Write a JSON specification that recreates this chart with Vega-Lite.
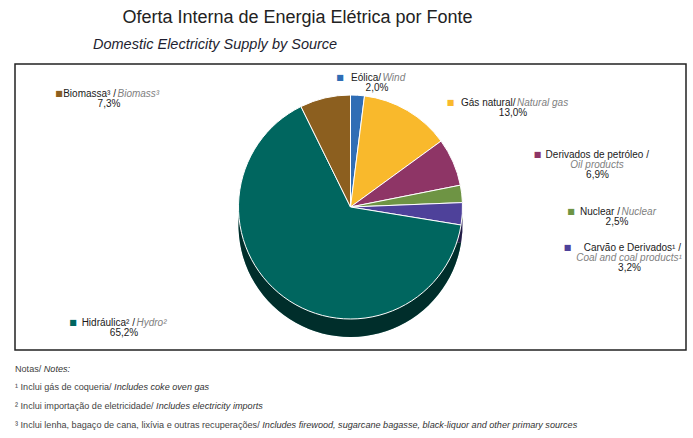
{
  "$schema": "https://vega.github.io/schema/vega-lite/v6.json",
  "background": "white",
  "padding": {"left": 14, "top": 8, "right": 0, "bottom": 0},
  "title": {"text": "Oferta Interna de Energia Elétrica por Fonte", "anchor": "middle", "dx": -53, "font": "Liberation Sans", "fontSize": 18, "fontWeight": "normal", "color": "#222222", "offset": 9},
  "spacing": 13.5,
  "config": {"view": {"stroke": null}, "text": {"font": "Liberation Sans", "fontSize": 10, "baseline": "middle", "radius": 0}},
  "vconcat": [
    {
      "width": 671,
      "height": 286,
      "view": {"stroke": "#222222", "strokeWidth": 1.5},
      "title": {"text": "Domestic Electricity Supply by Source", "anchor": "start", "dx": 78, "font": "Liberation Sans", "fontSize": 14.5, "fontStyle": "italic", "fontWeight": "normal", "color": "#1e1e30", "offset": 12},
      "data": {"values": [
        {"ord": 1, "src": "Eólica", "share": 2.0, "pt": "Eólica/", "en": "Wind", "val": "2,0%"},
        {"ord": 2, "src": "Gás natural", "share": 13.0, "pt": "Gás natural/", "en": "Natural gas", "val": "13,0%"},
        {"ord": 3, "src": "Derivados de petróleo", "share": 6.9, "pt": "Derivados de petróleo /", "en": "Oil products", "val": "6,9%"},
        {"ord": 4, "src": "Nuclear", "share": 2.5, "pt": "Nuclear /", "en": "Nuclear", "val": "2,5%"},
        {"ord": 5, "src": "Carvão e Derivados", "share": 3.2, "pt": "Carvão e Derivados¹ /", "en": "Coal and coal products¹", "val": "3,2%"},
        {"ord": 6, "src": "Hidráulica", "share": 65.2, "pt": "Hidráulica² /", "en": "Hydro²", "val": "65,2%"},
        {"ord": 7, "src": "Biomassa", "share": 7.3, "pt": "Biomassa³ /", "en": "Biomass³", "val": "7,3%"}
      ]},
      "encoding": {
        "theta": {"field": "share", "type": "quantitative", "stack": true},
        "order": {"field": "ord", "type": "quantitative"}
      },
      "layer": [
        {"mark": {"type": "arc", "radius": 112, "yOffset": 18},
         "encoding": {"color": {"field": "src", "type": "nominal", "legend": null, "scale": {"domain": ["Eólica", "Gás natural", "Derivados de petróleo", "Nuclear", "Carvão e Derivados", "Hidráulica", "Biomassa"], "range": ["#2F6DB5", "#F9B92C", "#8E3566", "#6E9444", "#4E419A", "#00665F", "#8C5F1F"]}}}},
        {"mark": {"type": "arc", "radius": 112, "yOffset": 18, "color": "#000000", "opacity": 0.55}},
        {"mark": {"type": "arc", "radius": 112, "stroke": "#ffffff", "strokeWidth": 1}, "encoding": {"color": {"field": "src", "type": "nominal", "legend": null}}},

        {"mark": {"type": "text", "align": "center", "dx": -10.5, "dy": -129.5, "font": "DejaVu Sans", "fontSize": 8}, "encoding": {"color": {"field": "src", "type": "nominal", "legend": null}, "text": {"condition": {"test": "datum.ord === 1", "value": "■"}, "value": ""}}},
        {"mark": {"type": "text", "align": "right", "dx": 30.5, "dy": -129.5, "color": "#1a1a1a"}, "encoding": {"text": {"condition": {"test": "datum.ord === 1", "field": "pt"}, "value": ""}}},
        {"mark": {"type": "text", "align": "left", "dx": 32, "dy": -129.5, "color": "#808080", "fontStyle": "italic"}, "encoding": {"text": {"condition": {"test": "datum.ord === 1", "field": "en"}, "value": ""}}},
        {"mark": {"type": "text", "align": "center", "dx": 26.5, "dy": -119.5, "color": "#1a1a1a"}, "encoding": {"text": {"condition": {"test": "datum.ord === 1", "field": "val"}, "value": ""}}},

        {"mark": {"type": "text", "align": "center", "dx": 100, "dy": -104, "font": "DejaVu Sans", "fontSize": 8}, "encoding": {"color": {"field": "src", "type": "nominal", "legend": null}, "text": {"condition": {"test": "datum.ord === 2", "value": "■"}, "value": ""}}},
        {"mark": {"type": "text", "align": "right", "dx": 165, "dy": -104, "color": "#1a1a1a"}, "encoding": {"text": {"condition": {"test": "datum.ord === 2", "field": "pt"}, "value": ""}}},
        {"mark": {"type": "text", "align": "left", "dx": 166.5, "dy": -104, "color": "#808080", "fontStyle": "italic"}, "encoding": {"text": {"condition": {"test": "datum.ord === 2", "field": "en"}, "value": ""}}},
        {"mark": {"type": "text", "align": "center", "dx": 162.5, "dy": -94, "color": "#1a1a1a"}, "encoding": {"text": {"condition": {"test": "datum.ord === 2", "field": "val"}, "value": ""}}},

        {"mark": {"type": "text", "align": "center", "dx": 187, "dy": -51.7, "font": "DejaVu Sans", "fontSize": 8}, "encoding": {"color": {"field": "src", "type": "nominal", "legend": null}, "text": {"condition": {"test": "datum.ord === 3", "value": "■"}, "value": ""}}},
        {"mark": {"type": "text", "align": "right", "dx": 298.5, "dy": -51.7, "color": "#1a1a1a"}, "encoding": {"text": {"condition": {"test": "datum.ord === 3", "field": "pt"}, "value": ""}}},
        {"mark": {"type": "text", "align": "center", "dx": 246.5, "dy": -41.7, "color": "#808080", "fontStyle": "italic"}, "encoding": {"text": {"condition": {"test": "datum.ord === 3", "field": "en"}, "value": ""}}},
        {"mark": {"type": "text", "align": "center", "dx": 247, "dy": -31.7, "color": "#1a1a1a"}, "encoding": {"text": {"condition": {"test": "datum.ord === 3", "field": "val"}, "value": ""}}},

        {"mark": {"type": "text", "align": "center", "dx": 220.5, "dy": 5, "font": "DejaVu Sans", "fontSize": 8}, "encoding": {"color": {"field": "src", "type": "nominal", "legend": null}, "text": {"condition": {"test": "datum.ord === 4", "value": "■"}, "value": ""}}},
        {"mark": {"type": "text", "align": "right", "dx": 269.5, "dy": 5, "color": "#1a1a1a"}, "encoding": {"text": {"condition": {"test": "datum.ord === 4", "field": "pt"}, "value": ""}}},
        {"mark": {"type": "text", "align": "left", "dx": 271, "dy": 5, "color": "#808080", "fontStyle": "italic"}, "encoding": {"text": {"condition": {"test": "datum.ord === 4", "field": "en"}, "value": ""}}},
        {"mark": {"type": "text", "align": "center", "dx": 266.5, "dy": 15, "color": "#1a1a1a"}, "encoding": {"text": {"condition": {"test": "datum.ord === 4", "field": "val"}, "value": ""}}},

        {"mark": {"type": "text", "align": "center", "dx": 217, "dy": 41, "font": "DejaVu Sans", "fontSize": 8}, "encoding": {"color": {"field": "src", "type": "nominal", "legend": null}, "text": {"condition": {"test": "datum.ord === 5", "value": "■"}, "value": ""}}},
        {"mark": {"type": "text", "align": "right", "dx": 330.5, "dy": 41, "color": "#1a1a1a"}, "encoding": {"text": {"condition": {"test": "datum.ord === 5", "field": "pt"}, "value": ""}}},
        {"mark": {"type": "text", "align": "center", "dx": 278.5, "dy": 51, "color": "#808080", "fontStyle": "italic"}, "encoding": {"text": {"condition": {"test": "datum.ord === 5", "field": "en"}, "value": ""}}},
        {"mark": {"type": "text", "align": "center", "dx": 279, "dy": 61, "color": "#1a1a1a"}, "encoding": {"text": {"condition": {"test": "datum.ord === 5", "field": "val"}, "value": ""}}},

        {"mark": {"type": "text", "align": "center", "dx": -277.5, "dy": 115.7, "font": "DejaVu Sans", "fontSize": 8}, "encoding": {"color": {"field": "src", "type": "nominal", "legend": null}, "text": {"condition": {"test": "datum.ord === 6", "value": "■"}, "value": ""}}},
        {"mark": {"type": "text", "align": "right", "dx": -215.5, "dy": 115.7, "color": "#1a1a1a"}, "encoding": {"text": {"condition": {"test": "datum.ord === 6", "field": "pt"}, "value": ""}}},
        {"mark": {"type": "text", "align": "left", "dx": -214, "dy": 115.7, "color": "#808080", "fontStyle": "italic"}, "encoding": {"text": {"condition": {"test": "datum.ord === 6", "field": "en"}, "value": ""}}},
        {"mark": {"type": "text", "align": "center", "dx": -226.5, "dy": 126, "color": "#1a1a1a"}, "encoding": {"text": {"condition": {"test": "datum.ord === 6", "field": "val"}, "value": ""}}},

        {"mark": {"type": "text", "align": "center", "dx": -291.5, "dy": -112.7, "font": "DejaVu Sans", "fontSize": 8}, "encoding": {"color": {"field": "src", "type": "nominal", "legend": null}, "text": {"condition": {"test": "datum.ord === 7", "value": "■"}, "value": ""}}},
        {"mark": {"type": "text", "align": "right", "dx": -234.5, "dy": -112.7, "color": "#1a1a1a"}, "encoding": {"text": {"condition": {"test": "datum.ord === 7", "field": "pt"}, "value": ""}}},
        {"mark": {"type": "text", "align": "left", "dx": -233, "dy": -112.7, "color": "#808080", "fontStyle": "italic"}, "encoding": {"text": {"condition": {"test": "datum.ord === 7", "field": "en"}, "value": ""}}},
        {"mark": {"type": "text", "align": "center", "dx": -241.5, "dy": -102.7, "color": "#1a1a1a"}, "encoding": {"text": {"condition": {"test": "datum.ord === 7", "field": "val"}, "value": ""}}}
      ]
    },
    {
      "width": 671,
      "height": 56,
      "view": {"stroke": null},
      "data": {"values": [
        {"i": 0, "pt": "Notas/", "en": "Notes:"},
        {"i": 1, "pt": "¹ Inclui gás de coqueria/", "en": "Includes coke oven gas"},
        {"i": 2, "pt": "² Inclui importação de eletricidade/", "en": "Includes electricity imports"},
        {"i": 3, "pt": "³ Inclui lenha, bagaço de cana, lixívia e outras recuperações/", "en": "Includes firewood, sugarcane bagasse, black-liquor and other primary sources"}
      ]},
      "encoding": {
        "y": {"field": "i", "type": "ordinal", "axis": null, "scale": {"padding": 0}},
        "x": {"value": 0}
      },
      "layer": [
        {"mark": {"type": "text", "align": "left", "baseline": "middle", "font": "Liberation Sans", "fontSize": 9.1, "color": "#444444"}, "encoding": {"text": {"field": "pt"}}},
        {"mark": {"type": "text", "align": "left", "baseline": "middle", "font": "Liberation Sans", "fontSize": 9.1, "fontStyle": "italic", "color": "#333333", "dx": 28.8}, "encoding": {"text": {"condition": {"test": "datum.i === 0", "field": "en"}, "value": ""}}},
        {"mark": {"type": "text", "align": "left", "baseline": "middle", "font": "Liberation Sans", "fontSize": 9.1, "fontStyle": "italic", "color": "#333333", "dx": 99.1}, "encoding": {"text": {"condition": {"test": "datum.i === 1", "field": "en"}, "value": ""}}},
        {"mark": {"type": "text", "align": "left", "baseline": "middle", "font": "Liberation Sans", "fontSize": 9.1, "fontStyle": "italic", "color": "#333333", "dx": 141.1}, "encoding": {"text": {"condition": {"test": "datum.i === 2", "field": "en"}, "value": ""}}},
        {"mark": {"type": "text", "align": "left", "baseline": "middle", "font": "Liberation Sans", "fontSize": 9.1, "fontStyle": "italic", "color": "#333333", "dx": 247.3}, "encoding": {"text": {"condition": {"test": "datum.i === 3", "field": "en"}, "value": ""}}}
      ]
    }
  ]
}
